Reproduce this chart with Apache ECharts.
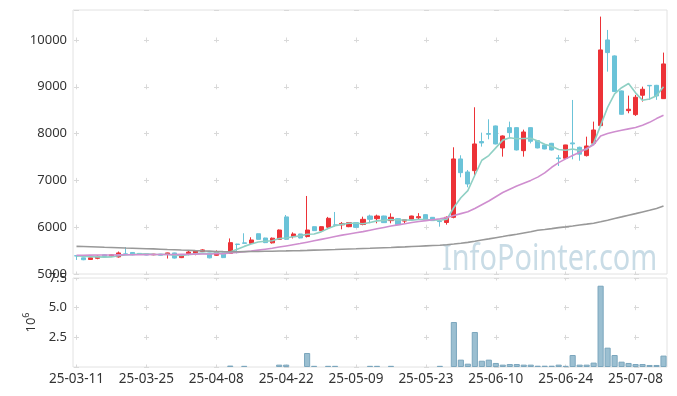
<!DOCTYPE html>
<html><head><meta charset="utf-8">
<script src="https://cdn.jsdelivr.net/npm/echarts@6/dist/echarts.min.js"></script>
<style>html,body{margin:0;padding:0;background:#fff}#c{width:677px;height:396px}</style>
</head><body><div id="c"></div><script>
const dates = ['25-03-11','25-03-12','25-03-13','25-03-14','25-03-17','25-03-18','25-03-19','25-03-20','25-03-21','25-03-24',
'25-03-25','25-03-26','25-03-27','25-03-28','25-03-31','25-04-01','25-04-02','25-04-03','25-04-04','25-04-07',
'25-04-08','25-04-09','25-04-10','25-04-11','25-04-14','25-04-15','25-04-16','25-04-17','25-04-18','25-04-21',
'25-04-22','25-04-23','25-04-24','25-04-25','25-04-28','25-04-29','25-04-30','25-05-02','25-05-07','25-05-08',
'25-05-09','25-05-12','25-05-13','25-05-14','25-05-15','25-05-16','25-05-19','25-05-20','25-05-21','25-05-22',
'25-05-23','25-05-26','25-05-27','25-05-28','25-05-29','25-05-30','25-06-02','25-06-04','25-06-05','25-06-09',
'25-06-10','25-06-11','25-06-12','25-06-13','25-06-16','25-06-17','25-06-18','25-06-19','25-06-20','25-06-23',
'25-06-24','25-06-25','25-06-26','25-06-27','25-06-30','25-07-01','25-07-02','25-07-03','25-07-04','25-07-07',
'25-07-08','25-07-09','25-07-10','25-07-11','25-07-14'];

const open = [5390,5345,5310,5335,5410,5380,5365,5430,5460,5440,
5430,5410,5425,5420,5450,5350,5435,5440,5480,5450,
5400,5450,5440,5640,5665,5655,5860,5769,5665,5741,
6220,5798,5855,5800,6011,5926,6000,6050,6050,6011,
6097,6060,6239,6182,6239,6140,6182,6130,6168,6200,
6268,6211,6130,6100,6211,7458,7180,7208,7830,8000,
8163,7693,8127,8127,7635,8127,7850,7757,7792,7480,
7472,7800,7707,7529,7793,8170,10000,9659,8911,8490,
8405,8819,9030,9031,8746];

const close = [5385,5305,5345,5380,5375,5410,5450,5420,5410,5420,
5405,5425,5400,5450,5340,5405,5470,5490,5515,5345,
5455,5350,5670,5630,5655,5727,5740,5670,5765,5940,
5741,5855,5770,5940,5926,6011,6190,6040,6080,6097,
5997,6168,6168,6239,6097,6211,6054,6160,6239,6225,
6154,6140,6120,6211,7458,7165,6923,7778,7800,7985,
7778,7949,8020,7650,8034,7835,7693,7671,7650,7465,
7757,7780,7560,7735,8077,9787,9730,8897,8412,8520,
8776,8947,9020,8804,9488];

const low = [5300,5295,5300,5315,5365,5370,5350,5410,5400,5410,
5400,5400,5395,5330,5330,5340,5400,5400,5470,5335,
5390,5340,5430,5440,5650,5645,5735,5660,5650,5730,
5730,5760,5760,5780,5920,5920,5960,6011,5955,6000,
5990,6040,6085,6083,6090,6083,6050,6083,6160,6154,
6150,6135,6011,6054,6190,7066,6852,7080,7721,7878,
7770,7507,7913,7640,7507,7790,7685,7665,7640,7308,
7465,7450,7420,7510,7780,8150,9323,8890,8405,8434,
8377,8683,8718,8720,8740];

const high = [5395,5350,5350,5395,5415,5420,5480,5575,5470,5445,
5435,5430,5430,5455,5455,5415,5510,5495,5530,5455,
5505,5455,5760,5645,5870,5785,5865,5775,5780,5950,
6260,5890,5860,6667,6015,6020,6220,6325,6111,6100,
6100,6225,6268,6268,6245,6296,6190,6170,6245,6300,
6275,6215,6154,6230,7707,7536,7222,8562,8020,8305,
8170,7960,8255,8135,8084,8135,7860,7760,7800,7543,
7760,8718,7720,7934,8255,10499,10214,9670,8920,8811,
8826,9003,9035,9040,9730];

const ma5 = [5385,5380,5370,5365,5360,5365,5390,5405,5415,5425,
5430,5420,5415,5420,5400,5395,5410,5430,5445,5430,
5455,5430,5470,5530,5590,5640,5685,5700,5710,5760,
5770,5795,5815,5850,5855,5900,5970,6030,6060,6085,
6085,6075,6100,6135,6145,6165,6155,6155,6150,6165,
6165,6155,6150,6170,6420,6630,6780,7110,7430,7530,
7695,7860,7910,7890,7895,7900,7840,7770,7730,7660,
7645,7670,7640,7660,7790,8175,8560,8850,8980,9070,
8870,8710,8740,8810,9000];

const ma20 = [5400,5402,5404,5405,5405,5406,5408,5410,5410,5412,
5414,5415,5416,5418,5418,5420,5422,5425,5428,5428,
5432,5436,5450,5462,5475,5490,5510,5530,5550,5575,
5600,5625,5650,5680,5710,5740,5770,5800,5830,5855,
5880,5905,5935,5965,5995,6025,6050,6075,6100,6120,
6140,6160,6180,6205,6250,6290,6330,6400,6480,6560,
6650,6740,6810,6880,6940,7000,7070,7160,7280,7380,
7460,7530,7600,7680,7760,7950,8000,8040,8070,8100,
8130,8180,8240,8320,8390];

const ma60 = [5590,5586,5581,5576,5570,5566,5561,5555,5551,5546,
5540,5536,5530,5524,5519,5512,5507,5500,5494,5489,
5482,5478,5475,5476,5478,5480,5482,5485,5487,5490,
5493,5497,5500,5504,5509,5513,5518,5522,5528,5533,
5538,5544,5549,5555,5561,5567,5574,5580,5587,5594,
5601,5608,5615,5625,5640,5656,5675,5700,5726,5750,
5776,5800,5826,5850,5876,5902,5935,5952,5970,5990,
6006,6025,6046,6065,6085,6115,6150,6186,6220,6256,
6290,6326,6360,6400,6453];

// volumes of the first weeks are too small to show in the picture
const volume = [0,0,0,0,0,0,0,0,0,0,
0,0,0,0,0,0,0,0,0,0,
0,0,120000,0,100000,0,0,0,0,200000,
200000,0,0,1180000,100000,0,100000,100000,0,0,
0,0,100000,100000,0,100000,0,0,0,0,
0,0,100000,0,3790000,620000,280000,2950000,530000,620000,
340000,200000,250000,250000,200000,200000,110000,110000,110000,200000,
100000,1010000,200000,200000,370000,6850000,1630000,1010000,450000,340000,
250000,250000,170000,170000,960000];

const priceMin = 5000, priceMax = 10640, priceStep = 1000;
const volMax = 7500000, volStep = 2500000;

const FONT = 'Noto Sans';
const candles = dates.map((d, i) => [open[i], close[i], low[i], high[i]]);
const volData = volume.map(v => v > 0 ? v : '-');
const markColor = '#d9d9d9';

const chart = echarts.init(document.getElementById('c'), null, {renderer: 'canvas'});
chart.setOption({
  animation: false,
  backgroundColor: '#fff',
  textStyle: {fontFamily: FONT},
  graphic: [{
    type: 'text', x: 442, y: 259, z: 0, scaleX: 0.78,
    style: {text: 'InfoPointer.com', fontSize: 37, fontFamily: FONT, fill: '#c9dce6', verticalAlign: 'middle', align: 'left'}
  }],
  grid: [
    {left: 73, right: 10, top: 10, height: 264, show: true, borderColor: '#e2e2e2', borderWidth: 1},
    {left: 73, right: 10, top: 278, height: 89, show: true, borderColor: '#e2e2e2', borderWidth: 1}
  ],
  xAxis: [
    {type: 'category', gridIndex: 0, data: dates, boundaryGap: true,
     axisLine: {show: false}, axisTick: {show: false, interval: 9, alignWithLabel: true},
     axisLabel: {show: false, interval: 9},
     splitLine: {show: true, interval: 9, alignWithLabel: true, lineStyle: {color: markColor, width: 1, type: [5, 41.8], dashOffset: 19.3}}},
    {type: 'category', gridIndex: 1, data: dates, boundaryGap: true,
     axisLine: {show: false}, axisTick: {show: false, interval: 9, alignWithLabel: true},
     axisLabel: {interval: 9, margin: 5, fontSize: 13.5, fontFamily: FONT, color: '#333'},
     splitLine: {show: true, interval: 9, alignWithLabel: true, lineStyle: {color: markColor, width: 1, type: [5, 24.67], dashOffset: 2.5}}}
  ],
  yAxis: [
    {type: 'value', gridIndex: 0, min: priceMin, max: priceMax, interval: priceStep, scale: true,
     axisLine: {show: false}, axisTick: {show: false},
     axisLabel: {showMaxLabel: false, margin: 6, fontSize: 13, fontFamily: FONT, color: '#333',
       formatter: v => String(v)},
     splitLine: {show: true, lineStyle: {color: markColor, width: 1, type: [5, 65], dashOffset: 69}}},
    {type: 'value', gridIndex: 1, min: 0, max: volMax, interval: volStep,
     name: '10{s|6}', nameLocation: 'middle', nameGap: 32, nameRotate: 90,
     nameTextStyle: {fontSize: 13, fontFamily: FONT, color: '#333',
       rich: {s: {fontSize: 9, fontFamily: FONT, color: '#333', padding: [0, 0, 9, 0]}}},
     axisLine: {show: false}, axisTick: {show: false},
     axisLabel: {showMinLabel: false, margin: 6, fontSize: 13, fontFamily: FONT, color: '#333',
       formatter: v => (v / 1e6).toFixed(1)},
     splitLine: {show: true, lineStyle: {color: markColor, width: 1, type: [5, 65], dashOffset: 69}}}
  ],
  series: [
    {type: 'candlestick', xAxisIndex: 0, yAxisIndex: 0, data: candles, barWidth: '66%',
     itemStyle: {color: '#ec3237', color0: '#6bc3d8', borderColor: '#ec3237', borderColor0: '#6bc3d8', borderWidth: 1}},
    {type: 'line', xAxisIndex: 0, yAxisIndex: 0, data: ma5, showSymbol: false, symbol: 'none',
     lineStyle: {color: '#8fd0c4', width: 1.6}},
    {type: 'line', xAxisIndex: 0, yAxisIndex: 0, data: ma20, showSymbol: false, symbol: 'none',
     lineStyle: {color: '#cf8ecf', width: 1.6}},
    {type: 'line', xAxisIndex: 0, yAxisIndex: 0, data: ma60, showSymbol: false, symbol: 'none',
     lineStyle: {color: '#999999', width: 1.6}},
    {type: 'bar', xAxisIndex: 1, yAxisIndex: 1, data: volData, barWidth: '88%',
     itemStyle: {color: '#9bbfd1', borderColor: '#7ba6bd', borderWidth: 1}}
  ]
});
</script></body></html>
